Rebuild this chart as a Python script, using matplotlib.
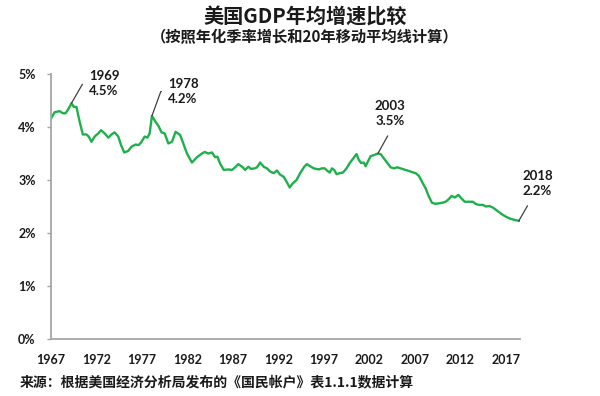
import numpy as np
import matplotlib
matplotlib.use("Agg")
import matplotlib.pyplot as plt

plt.rcParams['font.family'] = ['Lato', 'Noto Sans CJK SC', 'DejaVu Sans']

# 读图得到的20年移动平均年化增速(%)
years = [1967.0, 1967.4, 1967.95, 1968.3, 1968.6, 1968.95, 1969.25, 1969.5, 1969.8, 1970.15,
         1970.5, 1970.9, 1971.15, 1971.45, 1971.8, 1972.2, 1972.5, 1972.9, 1973.3, 1973.65,
         1974.0, 1974.4, 1974.7, 1975.05, 1975.5, 1975.85, 1976.3, 1976.65, 1976.95, 1977.3,
         1977.6, 1977.85, 1978.1, 1978.5, 1978.85, 1979.15, 1979.5, 1979.9, 1980.3, 1980.7,
         1981.2, 1981.55, 1981.95, 1982.5, 1983.05, 1983.6, 1983.9, 1984.3, 1984.7, 1985.05,
         1985.3, 1985.6, 1986.0, 1986.5, 1986.9, 1987.25, 1987.6, 1988.1, 1988.35, 1988.7,
         1989.0, 1989.4, 1989.65, 1990.0, 1990.4, 1990.75, 1991.1, 1991.5, 1991.85, 1992.2,
         1992.6, 1992.9, 1993.25, 1993.6, 1994.0, 1994.4, 1994.85, 1995.15, 1995.5, 1995.9,
         1996.45, 1996.8, 1997.1, 1997.35, 1997.65, 1997.9, 1998.15, 1998.4, 1998.75, 1999.1,
         1999.5, 1999.85, 2000.25, 2000.6, 2000.85, 2001.1, 2001.4, 2001.6, 2001.85, 2002.15,
         2002.5, 2002.95, 2003.25, 2003.6, 2004.0, 2004.35, 2004.7, 2005.1, 2005.45, 2005.8,
         2006.2, 2006.7, 2007.1, 2007.45, 2007.8, 2008.2, 2008.55, 2008.9, 2009.3, 2009.65,
         2010.0, 2010.4, 2010.75, 2011.05, 2011.4, 2011.8, 2012.15, 2012.5, 2012.95, 2013.4,
         2013.7, 2014.05, 2014.5, 2014.85, 2015.2, 2015.6, 2016.0, 2016.45, 2016.9, 2017.35,
         2017.9, 2018.45]
growth = [4.16, 4.28, 4.30, 4.26, 4.26, 4.35, 4.45, 4.38, 4.38, 4.10,
          3.86, 3.86, 3.82, 3.72, 3.82, 3.88, 3.94, 3.88, 3.80, 3.86,
          3.90, 3.82, 3.66, 3.52, 3.55, 3.63, 3.67, 3.66, 3.72, 3.82,
          3.80, 3.88, 4.21, 4.10, 4.01, 3.90, 3.88, 3.69, 3.72, 3.91,
          3.85, 3.69, 3.50, 3.33, 3.43, 3.50, 3.53, 3.50, 3.52, 3.43,
          3.44, 3.31, 3.19, 3.20, 3.19, 3.24, 3.30, 3.24, 3.19, 3.25,
          3.21, 3.22, 3.24, 3.33, 3.25, 3.22, 3.16, 3.13, 3.18, 3.10,
          3.06, 2.97, 2.86, 2.94, 3.00, 3.13, 3.25, 3.30, 3.26, 3.22,
          3.20, 3.22, 3.22, 3.18, 3.14, 3.22, 3.19, 3.11, 3.13, 3.14,
          3.22, 3.32, 3.41, 3.49, 3.38, 3.32, 3.33, 3.26, 3.35, 3.45,
          3.47, 3.50, 3.49, 3.41, 3.32, 3.24, 3.22, 3.24, 3.22, 3.20,
          3.18, 3.15, 3.13, 3.08, 2.97, 2.84, 2.69, 2.57, 2.55, 2.56,
          2.57, 2.59, 2.64, 2.70, 2.67, 2.72, 2.65, 2.59, 2.59, 2.59,
          2.55, 2.53, 2.53, 2.50, 2.51, 2.48, 2.43, 2.37, 2.32, 2.28,
          2.25, 2.23]

tick_years = [1967, 1972, 1977, 1982, 1987, 1992, 1997, 2002, 2007, 2012, 2017]
yticks = [0, 1, 2, 3, 4, 5]

# 标注: (所在点的年份, 标签)
notes = [(1969.25, '1969\n4.5%'), (1978.1, '1978\n4.2%'),
         (2002.95, '2003\n3.5%'), (2018.45, '2018\n2.2%')]

fig = plt.figure(figsize=(6, 3.96), dpi=100)
ax = fig.add_axes([0.085, 0.144, 0.782, 0.669])

ax.plot(years, growth, color='#1fb04c', lw=1.7, solid_joinstyle='round')

ax.set_xlim(1967, 2018.6)
ax.set_ylim(0, 5)
ax.set_xticks(tick_years)
ax.set_xticklabels([str(t) for t in tick_years])
ax.set_yticks(yticks)
ax.set_yticklabels([str(v) + '%' for v in yticks])

for s in ['top', 'right']:
    ax.spines[s].set_visible(False)
for s in ['left', 'bottom']:
    ax.spines[s].set_color('#a6a6a6')
    ax.spines[s].set_linewidth(1.3)

ax.tick_params(axis='x', length=0, pad=11, labelsize=9, colors='#1a1a1a')
ax.tick_params(axis='y', length=3, width=1, color='#a6a6a6', pad=8, labelsize=9, labelcolor='#1a1a1a')
for lb in ax.get_xticklabels() + ax.get_yticklabels():
    lb.set_fontweight('bold')

# 标注文字和引线
lead = dict(arrowstyle='-', color='#404040', lw=0.9, shrinkB=0)
txt = dict(fontsize=9.5, fontweight='bold', color='#1a1a1a', linespacing=1.3,
           annotation_clip=False)

k = years.index(notes[0][0])
ax.annotate(notes[0][1], xy=(years[k], growth[k]), xytext=(1971.2, 4.83), ha='left', va='center',
            arrowprops=dict(lead, connectionstyle='angle,angleA=0,angleB=60,rad=0',
                            relpos=(0, 0.5), shrinkA=3), **txt)
k = years.index(notes[1][0])
ax.annotate(notes[1][1], xy=(years[k], growth[k]), xytext=(1979.9, 4.67), ha='left', va='center',
            arrowprops=dict(lead, connectionstyle='angle,angleA=0,angleB=70,rad=0',
                            relpos=(0, 0.5), shrinkA=3), **txt)
k = years.index(notes[2][0])
ax.annotate(notes[2][1], xy=(years[k], growth[k]), xytext=(2004.3, 4.0), ha='center', va='bottom',
            arrowprops=dict(lead, relpos=(0.58, 0), shrinkA=5), **txt)
k = years.index(notes[3][0])
ax.annotate(notes[3][1], xy=(years[k], growth[k]), xytext=(2020.5, 2.68), ha='center', va='bottom',
            arrowprops=dict(lead, relpos=(0.34, 0), shrinkA=5), **txt)

cjk = ['Noto Sans CJK SC', 'DejaVu Sans']
fig.text(0.508, 0.958, '美国GDP年均增速比较', ha='center', va='center', fontsize=14.5,
         fontweight='bold', family=cjk, color='#1a1a1a')
fig.text(0.508, 0.906, '（按照年化季率增长和20年移动平均线计算）', ha='center', va='center',
         fontsize=11, fontweight='bold', family=cjk, color='#1a1a1a')
fig.text(0.032, 0.035, '来源：根据美国经济分析局发布的《国民帐户》表1.1.1数据计算', ha='left',
         va='center', fontsize=10, fontweight='bold', family=cjk, color='#1a1a1a')

fig.savefig('out.png', dpi=100)
